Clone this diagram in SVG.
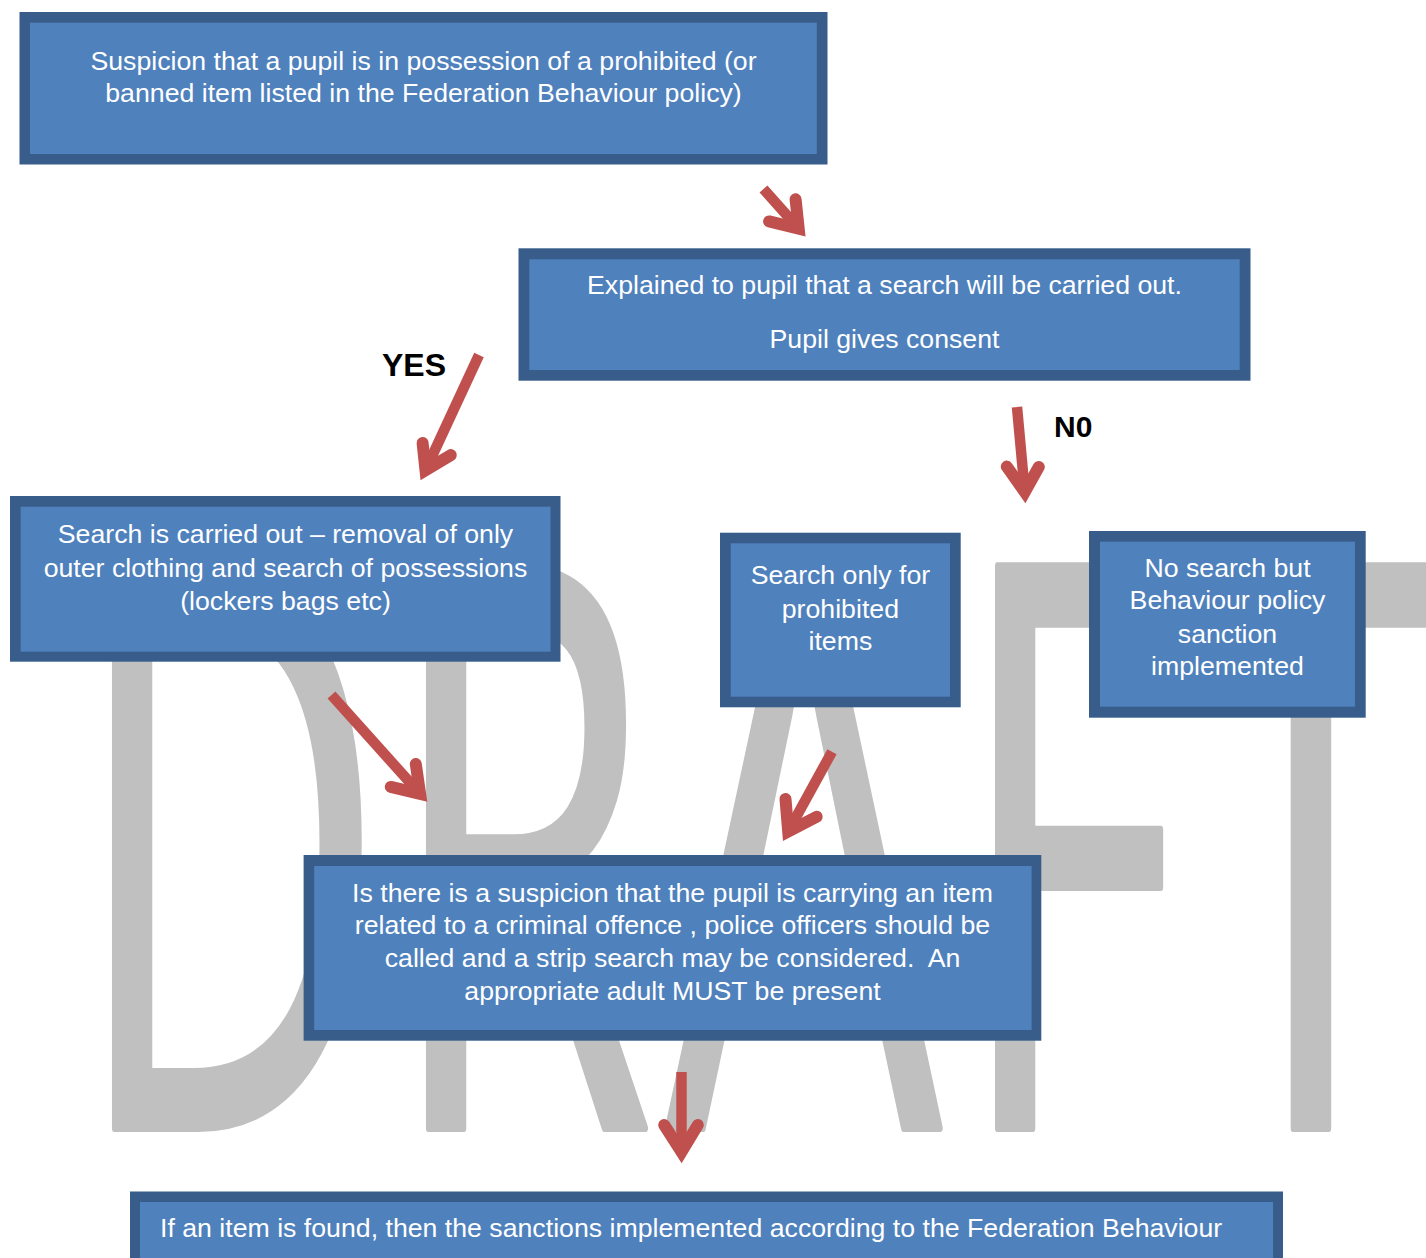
<svg xmlns="http://www.w3.org/2000/svg" width="1426" height="1258" viewBox="0 0 1426 1258">
<style>
.outer{fill:#385D8A;}
.inner{fill:#4F81BD;}
.t{font-family:"Liberation Sans",Arial,sans-serif;font-size:26.7px;fill:#FFFFFF;text-anchor:middle;}
.lbl{font-family:"Liberation Sans",Arial,sans-serif;font-weight:bold;fill:#000000;}
.shaft{stroke:#C0504D;stroke-width:10.5;fill:none;stroke-linecap:butt;}
.head{stroke:#C0504D;stroke-width:12;fill:none;stroke-linecap:round;stroke-linejoin:miter;stroke-miterlimit:10;}
.wm{font-family:"Open Sans","DejaVu Sans",sans-serif;font-size:787px;fill:#C0C0C0;stroke:#C0C0C0;stroke-width:8;stroke-linejoin:round;}
</style>
<rect x="0" y="0" width="1426" height="1258" fill="#FFFFFF"/>
<g id="watermark">
<text class="wm" transform="scale(0.55,1)" x="130.7 701.6 1213.1 1736.2 2167" y="1128">DRAFT</text>
</g>
<g id="node1">
<rect class="outer" x="19.5" y="12" width="808" height="152.5"/>
<rect class="inner" x="30" y="22.7" width="786.8" height="131.3"/>
<text class="t" x="423.5" y="70">Suspicion that a pupil is in possession of a prohibited (or</text>
<text class="t" x="423.5" y="102">banned item listed in the Federation Behaviour policy)</text>
</g>
<g id="node2">
<rect class="outer" x="518.5" y="248.3" width="732" height="132.4"/>
<rect class="inner" x="529.3" y="259.3" width="710.4" height="110.7"/>
<text class="t" x="884.5" y="294">Explained to pupil that a search will be carried out.</text>
<text class="t" x="884.5" y="348">Pupil gives consent</text>
</g>
<g id="node3">
<rect class="outer" x="10" y="496" width="550.5" height="165.7"/>
<rect class="inner" x="20.6" y="506.7" width="529.9" height="145"/>
<text class="t" x="285.5" y="543">Search is carried out – removal of only</text>
<text class="t" x="285.5" y="577">outer clothing and search of possessions</text>
<text class="t" x="285.5" y="610">(lockers bags etc)</text>
</g>
<g id="node4">
<rect class="outer" x="720" y="532.7" width="240.7" height="174.6"/>
<rect class="inner" x="730.7" y="543.3" width="219.3" height="153.4"/>
<text class="t" x="840.4" y="584">Search only for</text>
<text class="t" x="840.4" y="618">prohibited</text>
<text class="t" x="840.4" y="650">items</text>
</g>
<g id="node5">
<rect class="outer" x="1089" y="531" width="276.7" height="186.7"/>
<rect class="inner" x="1100" y="541.7" width="255" height="165"/>
<text class="t" x="1227.5" y="577">No search but</text>
<text class="t" x="1227.5" y="609">Behaviour policy</text>
<text class="t" x="1227.5" y="643">sanction</text>
<text class="t" x="1227.5" y="675">implemented</text>
</g>
<g id="node6">
<rect class="outer" x="303.6" y="855" width="737.7" height="185.7"/>
<rect class="inner" x="314.2" y="866" width="717.4" height="164"/>
<text class="t" x="672.5" y="901.5">Is there is a suspicion that the pupil is carrying an item</text>
<text class="t" x="672.5" y="934">related to a criminal offence , police officers should be</text>
<text class="t" x="672.5" y="967">called and a strip search may be considered.&#160; An</text>
<text class="t" x="672.5" y="999.5">appropriate adult MUST be present</text>
</g>
<g id="node7">
<rect class="outer" x="130" y="1191.5" width="1153" height="90"/>
<rect class="inner" x="140" y="1202" width="1133" height="70"/>
<text class="t" x="160" y="1237" style="text-anchor:start">If an item is found, then the sanctions implemented according to the Federation Behaviour</text>
</g>
<g id="labels">
<text class="lbl" x="382" y="376" font-size="32">YES</text>
<text class="lbl" x="1054" y="437" font-size="30">N0</text>
</g>
<g id="connectors">
<line class="shaft" x1="763.5" y1="189" x2="798.7" y2="228.6"/>
<polyline class="head" points="795.6,199.3 798.7,228.6 769.1,221.4"/>
<line class="shaft" x1="479" y1="355" x2="425.5" y2="470.2"/>
<polyline class="head" points="422.6,443 425.5,470.2 450.8,455.1"/>
<line class="shaft" x1="1017" y1="407" x2="1024.8" y2="492"/>
<polyline class="head" points="1006.8,466.6 1024.8,492 1038.8,466.9"/>
<line class="shaft" x1="331.5" y1="695" x2="420.1" y2="793.8"/>
<polyline class="head" points="415.8,764 420.1,793.8 390.8,786.9"/>
<line class="shaft" x1="832" y1="751.7" x2="788.2" y2="831.6"/>
<polyline class="head" points="785.5,799 788.2,831.6 816.7,816.8"/>
<line class="shaft" x1="681.5" y1="1072" x2="681.5" y2="1152"/>
<polyline class="head" points="664.2,1125 681.5,1152 697.8,1125"/>
</g>
</svg>
